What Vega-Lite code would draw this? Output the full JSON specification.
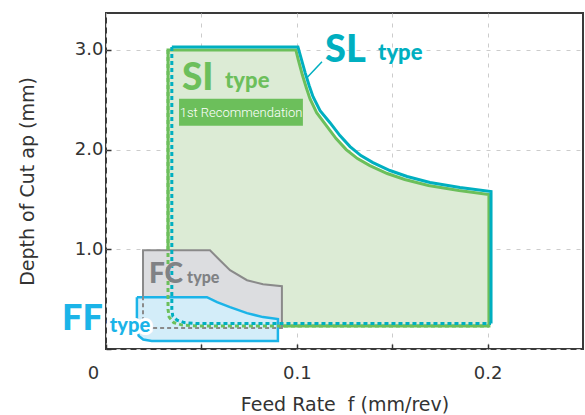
{
  "$schema": "https://vega.github.io/schema/vega-lite/v6.json",
  "width": 477,
  "height": 336,
  "autosize": {"type": "none"},
  "padding": {"left": 106, "top": 13, "right": 2, "bottom": 66},
  "config": {
    "view": {"stroke": "#3a3a3a", "strokeWidth": 2},
    "axis": {
      "labelFont": "DejaVu Sans", "labelFontSize": 18, "labelColor": "#333333",
      "titleFont": "DejaVu Sans", "titleFontSize": 19, "titleFontWeight": "normal", "titleColor": "#333333",
      "domain": false, "grid": true, "gridColor": "#cccccc", "gridDash": [4, 6], "gridWidth": 1,
      "tickColor": "#333333", "tickSize": -5, "tickWidth": 1.5
    }
  },
  "datasets": {
    "si": [
      {"i": 0, "x": 0.048, "y": 0.23}, {"i": 1, "x": 0.040, "y": 0.24}, {"i": 2, "x": 0.0355, "y": 0.265},
      {"i": 3, "x": 0.0331, "y": 0.32}, {"i": 4, "x": 0.0325, "y": 0.40}, {"i": 5, "x": 0.0325, "y": 3.0},
      {"i": 6, "x": 0.0995, "y": 3.0}, {"i": 7, "x": 0.1008, "y": 2.90}, {"i": 8, "x": 0.1029, "y": 2.75},
      {"i": 9, "x": 0.1050, "y": 2.62}, {"i": 10, "x": 0.1069, "y": 2.51}, {"i": 11, "x": 0.1104, "y": 2.37},
      {"i": 12, "x": 0.1155, "y": 2.24}, {"i": 13, "x": 0.1206, "y": 2.11}, {"i": 14, "x": 0.1259, "y": 2.00},
      {"i": 15, "x": 0.1318, "y": 1.91}, {"i": 16, "x": 0.1383, "y": 1.84}, {"i": 17, "x": 0.1474, "y": 1.76},
      {"i": 18, "x": 0.1566, "y": 1.70}, {"i": 19, "x": 0.1690, "y": 1.64}, {"i": 20, "x": 0.1850, "y": 1.59},
      {"i": 21, "x": 0.2007, "y": 1.55}, {"i": 22, "x": 0.2007, "y": 0.23}, {"i": 23, "x": 0.048, "y": 0.23}
    ],
    "slSolid": [
      {"i": 0, "x": 0.0345, "y": 3.03}, {"i": 1, "x": 0.1006, "y": 3.03}, {"i": 2, "x": 0.1022, "y": 2.92},
      {"i": 3, "x": 0.1044, "y": 2.77}, {"i": 4, "x": 0.1065, "y": 2.64}, {"i": 5, "x": 0.1085, "y": 2.53},
      {"i": 6, "x": 0.1122, "y": 2.39}, {"i": 7, "x": 0.1174, "y": 2.27}, {"i": 8, "x": 0.1226, "y": 2.14},
      {"i": 9, "x": 0.1279, "y": 2.03}, {"i": 10, "x": 0.1336, "y": 1.94}, {"i": 11, "x": 0.1399, "y": 1.87},
      {"i": 12, "x": 0.1488, "y": 1.79}, {"i": 13, "x": 0.1578, "y": 1.73}, {"i": 14, "x": 0.1698, "y": 1.67},
      {"i": 15, "x": 0.1855, "y": 1.62}, {"i": 16, "x": 0.2018, "y": 1.58}, {"i": 17, "x": 0.2018, "y": 0.255}
    ],
    "slDash": [
      {"i": 0, "x": 0.0345, "y": 3.03}, {"i": 1, "x": 0.0345, "y": 0.40}, {"i": 2, "x": 0.0350, "y": 0.33},
      {"i": 3, "x": 0.0372, "y": 0.29}, {"i": 4, "x": 0.041, "y": 0.265}, {"i": 5, "x": 0.048, "y": 0.255},
      {"i": 6, "x": 0.2018, "y": 0.255}
    ],
    "siDash": [
      {"i": 0, "x": 0.0325, "y": 3.0}, {"i": 1, "x": 0.0325, "y": 0.40}, {"i": 2, "x": 0.0331, "y": 0.32},
      {"i": 3, "x": 0.0355, "y": 0.265}, {"i": 4, "x": 0.040, "y": 0.24}, {"i": 5, "x": 0.048, "y": 0.23},
      {"i": 6, "x": 0.2007, "y": 0.23}
    ],
    "fc": [
      {"i": 0, "x": 0.0194, "y": 0.21}, {"i": 1, "x": 0.0194, "y": 0.99}, {"i": 2, "x": 0.0545, "y": 0.99},
      {"i": 3, "x": 0.0597, "y": 0.89}, {"i": 4, "x": 0.065, "y": 0.79}, {"i": 5, "x": 0.0739, "y": 0.69},
      {"i": 6, "x": 0.0823, "y": 0.65}, {"i": 7, "x": 0.0922, "y": 0.63}, {"i": 8, "x": 0.0922, "y": 0.21},
      {"i": 9, "x": 0.0194, "y": 0.21}
    ],
    "fcDash": [
      {"i": 0, "x": 0.0194, "y": 0.53}, {"i": 1, "x": 0.0194, "y": 0.21}, {"i": 2, "x": 0.0922, "y": 0.21}
    ],
    "ff": [
      {"i": 0, "x": 0.0162, "y": 0.52}, {"i": 1, "x": 0.0529, "y": 0.52}, {"i": 2, "x": 0.0582, "y": 0.47},
      {"i": 3, "x": 0.065, "y": 0.42}, {"i": 4, "x": 0.0739, "y": 0.36}, {"i": 5, "x": 0.0823, "y": 0.32},
      {"i": 6, "x": 0.0901, "y": 0.30}, {"i": 7, "x": 0.0901, "y": 0.08}, {"i": 8, "x": 0.024, "y": 0.08},
      {"i": 9, "x": 0.0195, "y": 0.095}, {"i": 10, "x": 0.0172, "y": 0.13}, {"i": 11, "x": 0.0162, "y": 0.18},
      {"i": 12, "x": 0.0162, "y": 0.52}
    ],
    "leader": [{"x": 0.1053, "y": 2.72, "x2": 0.1132, "y2": 2.88}],
    "rec": [{"x": 0.0383, "y": 2.24, "x2": 0.1032, "y2": 2.51, "xc": 0.0708, "yc": 2.37, "label": "1st Recommendation"}],
    "slBig": [{"x": 0.1148, "y": 2.88, "label": "SL"}],
    "slSmall": [{"x": 0.1426, "y": 2.90, "label": "type"}],
    "siBig": [{"x": 0.0398, "y": 2.60, "label": "SI"}],
    "siSmall": [{"x": 0.0624, "y": 2.62, "label": "type"}],
    "fcBig": [{"x": 0.0225, "y": 0.66, "label": "FC"}],
    "fcSmall": [{"x": 0.0425, "y": 0.66, "label": "type"}],
    "ffBig": [{"x": -0.023, "y": 0.19, "label": "FF"}],
    "ffSmall": [{"x": 0.002, "y": 0.17, "label": "type"}]
  },
  "encoding": {
    "x": {
      "field": "x", "type": "quantitative",
      "scale": {"domain": [0, 0.25], "nice": false, "zero": false},
      "axis": {
        "title": "Feed Rate\u00a0 f (mm/rev)",
        "values": [0, 0.05, 0.1, 0.15, 0.2],
        "labelExpr": "datum.value == 0 ? '0' : (abs(datum.value - 0.1) < 0.001 ? '0.1' : (abs(datum.value - 0.2) < 0.001 ? '0.2' : ''))",
        "labelPadding": 20, "titlePadding": 13, "labelFlush": false,
        "labelOffset": {"condition": {"test": "datum.value == 0", "value": -13}, "value": 0}
      }
    },
    "y": {
      "field": "y", "type": "quantitative",
      "scale": {"domain": [0, 3.37], "nice": false, "zero": false},
      "axis": {
        "title": "Depth of Cut ap (mm)",
        "values": [0, 1, 2, 3],
        "labelExpr": "datum.value == 0 ? '' : format(datum.value, '.1f')",
        "labelPadding": 8, "titlePadding": 37
      }
    }
  },
  "layer": [
    {"data": {"name": "si"}, "mark": {"type": "line", "fill": "#dcebd5", "stroke": "#6cbf5b", "strokeWidth": 3, "strokeJoin": "miter"}, "encoding": {"order": {"field": "i", "type": "quantitative"}}},
    {"data": {"name": "slSolid"}, "mark": {"type": "line", "stroke": "#00afc0", "strokeWidth": 3, "strokeJoin": "miter"}, "encoding": {"order": {"field": "i", "type": "quantitative"}}},
    {"data": {"name": "fc"}, "mark": {"type": "line", "fill": "#dcdde0", "stroke": "#8a8a8a", "strokeWidth": 2, "strokeJoin": "miter"}, "encoding": {"order": {"field": "i", "type": "quantitative"}}},
    {"data": {"name": "ff"}, "mark": {"type": "line", "fill": "#d3edf9", "stroke": "#1bb4e8", "strokeWidth": 2.5, "strokeJoin": "miter"}, "encoding": {"order": {"field": "i", "type": "quantitative"}}},
    {"data": {"name": "fcDash"}, "mark": {"type": "line", "stroke": "#8a8a8a", "strokeWidth": 2, "strokeDash": [4, 3]}, "encoding": {"order": {"field": "i", "type": "quantitative"}}},
    {"data": {"name": "siDash"}, "mark": {"type": "line", "stroke": "#6cbf5b", "strokeWidth": 3, "strokeDash": [4, 3]}, "encoding": {"order": {"field": "i", "type": "quantitative"}}},
    {"data": {"name": "slDash"}, "mark": {"type": "line", "stroke": "#00afc0", "strokeWidth": 3, "strokeDash": [4, 3]}, "encoding": {"order": {"field": "i", "type": "quantitative"}}},
    {"data": {"name": "leader"}, "mark": {"type": "rule", "stroke": "#00afc0", "strokeWidth": 1.5}, "encoding": {"x2": {"field": "x2"}, "y2": {"field": "y2"}}},
    {"data": {"name": "rec"}, "mark": {"type": "rect", "fill": "#6cbf5b"}, "encoding": {"x2": {"field": "x2"}, "y2": {"field": "y2"}}},
    {"data": {"name": "rec"}, "mark": {"type": "text", "font": "Roboto", "fontWeight": 300, "fontSize": 13, "fill": "#ffffff", "align": "center", "baseline": "middle"}, "encoding": {"x": {"field": "xc", "type": "quantitative"}, "y": {"field": "yc", "type": "quantitative"}, "text": {"field": "label"}}},
    {"data": {"name": "slBig"}, "mark": {"type": "text", "font": "Lato", "fontWeight": 900, "fontSize": 38, "fill": "#00afc0", "align": "left", "baseline": "alphabetic"}, "encoding": {"text": {"field": "label"}}},
    {"data": {"name": "slSmall"}, "mark": {"type": "text", "font": "Lato", "fontWeight": 900, "fontSize": 22, "fill": "#00afc0", "align": "left", "baseline": "alphabetic"}, "encoding": {"text": {"field": "label"}}},
    {"data": {"name": "siBig"}, "mark": {"type": "text", "font": "Lato", "fontWeight": 900, "fontSize": 37, "fill": "#6cbf5b", "align": "left", "baseline": "alphabetic"}, "encoding": {"text": {"field": "label"}}},
    {"data": {"name": "siSmall"}, "mark": {"type": "text", "font": "Lato", "fontWeight": 900, "fontSize": 22, "fill": "#6cbf5b", "align": "left", "baseline": "alphabetic"}, "encoding": {"text": {"field": "label"}}},
    {"data": {"name": "fcBig"}, "mark": {"type": "text", "font": "Lato", "fontWeight": 900, "fontSize": 28, "fill": "#808285", "align": "left", "baseline": "alphabetic"}, "encoding": {"text": {"field": "label"}}},
    {"data": {"name": "fcSmall"}, "mark": {"type": "text", "font": "Lato", "fontWeight": 900, "fontSize": 16, "fill": "#808285", "align": "left", "baseline": "alphabetic"}, "encoding": {"text": {"field": "label"}}},
    {"data": {"name": "ffBig"}, "mark": {"type": "text", "font": "Lato", "fontWeight": 900, "fontSize": 36, "fill": "#1bb4e8", "align": "left", "baseline": "alphabetic"}, "encoding": {"text": {"field": "label"}}},
    {"data": {"name": "ffSmall"}, "mark": {"type": "text", "font": "Lato", "fontWeight": 900, "fontSize": 20, "stroke": "#ffffff", "strokeWidth": 6, "strokeJoin": "round", "fill": "#ffffff", "align": "left", "baseline": "alphabetic"}, "encoding": {"text": {"field": "label"}}},
    {"data": {"name": "ffSmall"}, "mark": {"type": "text", "font": "Lato", "fontWeight": 900, "fontSize": 20, "fill": "#1bb4e8", "align": "left", "baseline": "alphabetic"}, "encoding": {"text": {"field": "label"}}}
  ]
}
